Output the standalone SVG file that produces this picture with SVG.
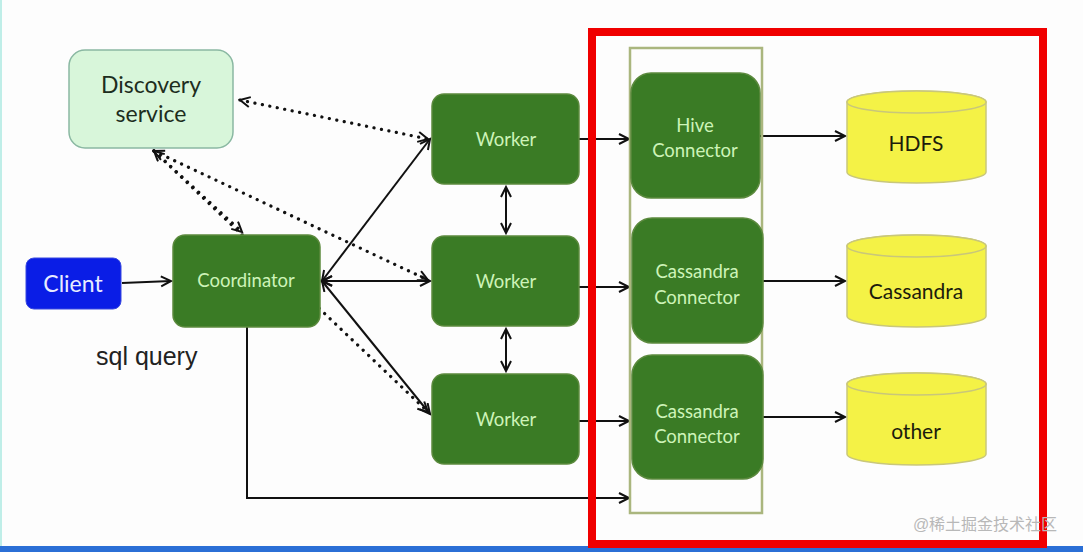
<svg xmlns="http://www.w3.org/2000/svg" width="1083" height="552" viewBox="0 0 1083 552">
<style>
.g{fill:#3a7b25;stroke:#5c8a3e;stroke-width:1.5}
.gt{font-family:Lato,"Open Sans",sans-serif;font-size:18.5px;fill:#cdf3b8;text-anchor:middle}
.ln{stroke:#111;stroke-width:2;fill:none}
.dt{stroke:#111;stroke-width:3.2;fill:none;stroke-dasharray:0.1 7.5;stroke-linecap:round}
.cy{fill:#f4f246;stroke:#c9c77a;stroke-width:1.5}
.ct{font-family:Lato,"Open Sans",sans-serif;font-size:21px;fill:#1c1c0c;text-anchor:middle}
</style>
<defs>
<marker id="a" markerUnits="userSpaceOnUse" markerWidth="14" markerHeight="14" refX="11" refY="6" orient="auto-start-reverse">
<path d="M1,1 L11,6 L1,11" fill="none" stroke="#111" stroke-width="2"/>
</marker>
</defs>
<rect width="1083" height="552" fill="#fdfdfd"/>
<rect x="0" y="0" width="2" height="546" fill="#bfeee8"/>
<rect x="0" y="546" width="1083" height="6" fill="#2b6fd6"/>

<g id="connectors">
<line class="dt" x1="240" y1="100" x2="428" y2="139" marker-start="url(#a)" marker-end="url(#a)"/>
<line class="dt" x1="154" y1="151" x2="428" y2="280" marker-start="url(#a)" marker-end="url(#a)"/>
<line class="dt" x1="154" y1="151" x2="242" y2="232" marker-start="url(#a)" marker-end="url(#a)"/>
<line class="dt" x1="154" y1="151" x2="428" y2="412" marker-end="url(#a)"/>
<line class="ln" x1="122" y1="283" x2="171" y2="281" marker-end="url(#a)"/>
<line class="ln" x1="322" y1="281" x2="430" y2="139" marker-start="url(#a)" marker-end="url(#a)"/>
<line class="ln" x1="322" y1="281" x2="430" y2="281" marker-start="url(#a)" marker-end="url(#a)"/>
<line class="ln" x1="322" y1="281" x2="430" y2="414" marker-start="url(#a)" marker-end="url(#a)"/>
<line class="ln" x1="506" y1="187" x2="506" y2="233" marker-start="url(#a)" marker-end="url(#a)"/>
<line class="ln" x1="506" y1="329" x2="506" y2="371" marker-start="url(#a)" marker-end="url(#a)"/>
<line class="ln" x1="579" y1="139" x2="629" y2="139" marker-end="url(#a)"/>
<line class="ln" x1="579" y1="287" x2="629" y2="287" marker-end="url(#a)"/>
<line class="ln" x1="579" y1="421" x2="629" y2="421" marker-end="url(#a)"/>
<polyline class="ln" points="247,327 247,498 629,498" marker-end="url(#a)"/>
<line class="ln" x1="760" y1="136" x2="845" y2="136" marker-end="url(#a)"/>
<line class="ln" x1="762" y1="281" x2="845" y2="281" marker-end="url(#a)"/>
<line class="ln" x1="762" y1="417" x2="845" y2="417" marker-end="url(#a)"/>
</g>

<g id="discovery">
<rect x="69" y="50" width="164" height="98" rx="16" fill="#d8f6da" stroke="#8ab8a2" stroke-width="1.5"/>
<text x="151" y="93" font-family="Lato,'Open Sans',sans-serif" font-size="23" fill="#1d2d1d" text-anchor="middle">Discovery</text>
<text x="151" y="122" font-family="Lato,'Open Sans',sans-serif" font-size="23" fill="#1d2d1d" text-anchor="middle">service</text>
</g>
<g id="client">
<rect x="26" y="258" width="95" height="51" rx="8" fill="#0a1de6" stroke="#3848e0" stroke-width="1"/>
<text x="73" y="292" font-family="Lato,'Open Sans',sans-serif" font-size="23" fill="#e8ecff" text-anchor="middle">Client</text>
</g>
<g id="coordinator">
<rect class="g" x="173" y="235" width="147" height="92" rx="12"/>
<text class="gt" x="246" y="287">Coordinator</text>
</g>
<g id="worker1">
<rect class="g" x="432" y="94" width="147" height="90" rx="12"/>
<text class="gt" x="506" y="146">Worker</text>
</g>
<g id="worker2">
<rect class="g" x="432" y="236" width="147" height="90" rx="12"/>
<text class="gt" x="506" y="288">Worker</text>
</g>
<g id="worker3">
<rect class="g" x="432" y="374" width="147" height="90" rx="12"/>
<text class="gt" x="506" y="426">Worker</text>
</g>

<g id="highlight">
<rect x="592" y="32" width="451" height="512" fill="none" stroke="#f00000" stroke-width="8"/>
</g>
<g id="connector-group">
<rect x="630" y="48" width="132" height="465" fill="none" stroke="#aab67e" stroke-width="2.5"/>
</g>
<g id="hive">
<rect class="g" x="631" y="73" width="129" height="125" rx="20"/>
<text class="gt" x="695" y="132">Hive</text>
<text class="gt" x="695" y="157">Connector</text>
</g>
<g id="cassandra1">
<rect class="g" x="632" y="218" width="131" height="125" rx="20"/>
<text class="gt" x="697" y="278">Cassandra</text>
<text class="gt" x="697" y="304">Connector</text>
</g>
<g id="cassandra2">
<rect class="g" x="632" y="355" width="131" height="124" rx="20"/>
<text class="gt" x="697" y="418">Cassandra</text>
<text class="gt" x="697" y="443">Connector</text>
</g>

<g id="hdfs">
<path class="cy" d="M847,102 A69.5,11 0 0 1 986,102 V172 A69.5,11 0 0 1 847,172 Z"/>
<ellipse class="cy" cx="916.5" cy="102" rx="69.5" ry="11"/>
<text class="ct" x="916" y="151">HDFS</text>
</g>
<g id="cassandra">
<path class="cy" d="M847,246 A69.5,11 0 0 1 986,246 V316 A69.5,11 0 0 1 847,316 Z"/>
<ellipse class="cy" cx="916.5" cy="246" rx="69.5" ry="11"/>
<text class="ct" x="916" y="299">Cassandra</text>
</g>
<g id="other">
<path class="cy" d="M847,384 A69.5,11 0 0 1 986,384 V454 A69.5,11 0 0 1 847,454 Z"/>
<ellipse class="cy" cx="916.5" cy="384" rx="69.5" ry="11"/>
<text class="ct" x="916" y="439">other</text>
</g>

<text x="96" y="365" font-family="'Liberation Sans',Arial,sans-serif" font-size="25" fill="#222">sql query</text>
<text x="985" y="530" font-family="'Liberation Sans','Noto Sans CJK SC',sans-serif" font-size="16" fill="#b8b8b8" text-anchor="middle">@稀土掘金技术社区</text>
</svg>
